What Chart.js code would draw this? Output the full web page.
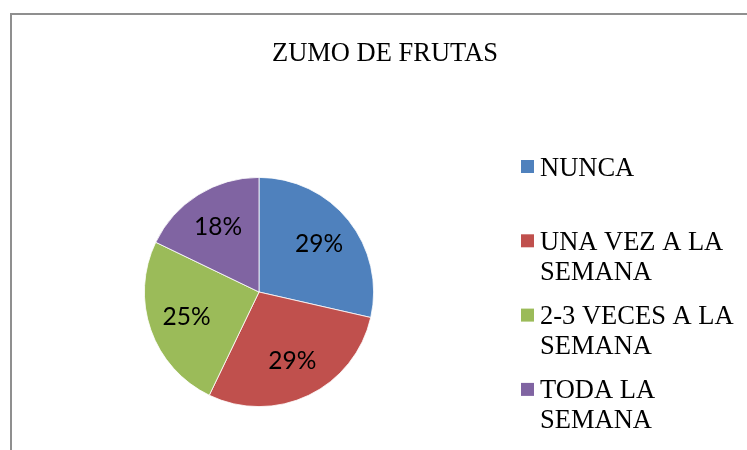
<!DOCTYPE html>
<html>
<head>
<meta charset="utf-8">
<script src="https://cdn.jsdelivr.net/npm/chart.js@4/dist/chart.umd.min.js"></script>
<style>
  html, body { margin: 0; padding: 0; background: #ffffff; }
  #wrap { width: 747px; height: 450px; }
</style>
</head>
<body>
<div id="wrap"><canvas id="c" width="747" height="450"></canvas></div>
<script>
const chartTitle = 'ZUMO DE FRUTAS';
const categories = ['NUNCA', 'UNA VEZ A LA SEMANA', '2-3 VECES A LA SEMANA', 'TODA LA SEMANA'];
const values = [16, 16, 14, 10];
const legendLines = [['NUNCA'], ['UNA VEZ A LA', 'SEMANA'], ['2-3 VECES A LA', 'SEMANA'], ['TODA LA', 'SEMANA']];
const colors = ['#4F81BD', '#C0504D', '#9BBB59', '#8064A2'];

const total = values.reduce((a, b) => a + b, 0);

const framePlugin = {
  id: 'frame',
  beforeDraw(chart) {
    const ctx = chart.ctx;
    ctx.save();
    ctx.fillStyle = '#ffffff';
    ctx.fillRect(0, 0, chart.width, chart.height);
    ctx.strokeStyle = '#8f8f8f';
    ctx.lineWidth = 2;
    ctx.strokeRect(11, 14, chart.width + 40, chart.height + 40);
    ctx.fillStyle = '#000000';
    ctx.font = '26.5px "Liberation Serif", "Times New Roman", serif';
    ctx.textAlign = 'center';
    ctx.textBaseline = 'alphabetic';
    ctx.fillText(chartTitle, 385, 60.5);
    ctx.restore();
  }
};

const labelPlugin = {
  id: 'sliceLabels',
  afterDatasetsDraw(chart) {
    const ctx = chart.ctx;
    const meta = chart.getDatasetMeta(0);
    const data = chart.data.datasets[0].data;
    ctx.save();
    ctx.fillStyle = '#000000';
    ctx.font = '24.5px Lato, "Open Sans", sans-serif';
    ctx.textAlign = 'center';
    ctx.textBaseline = 'middle';
    meta.data.forEach((arc, i) => {
      const p = arc.getProps(['x', 'y', 'startAngle', 'endAngle', 'outerRadius'], true);
      const mid = (p.startAngle + p.endAngle) / 2;
      const r = p.outerRadius * 0.67;
      const pct = Math.round(data[i] / total * 100) + '%';
      ctx.fillText(pct, p.x + Math.cos(mid) * r, p.y + Math.sin(mid) * r);
    });
    ctx.restore();
  }
};

const legendPlugin = {
  id: 'sideLegend',
  afterDraw(chart) {
    const ctx = chart.ctx;
    const bg = chart.data.datasets[0].backgroundColor;
    ctx.save();
    ctx.font = '26.5px "Liberation Serif", "Times New Roman", serif';
    ctx.textAlign = 'left';
    ctx.textBaseline = 'alphabetic';
    const firstBase = 175.5, itemStep = 74.3, lineStep = 30;
    legendLines.forEach((lines, i) => {
      const base = firstBase + i * itemStep;
      ctx.fillStyle = bg[i];
      ctx.fillRect(521, base - 15.5, 13, 13);
      ctx.fillStyle = '#000000';
      lines.forEach((t, j) => ctx.fillText(t, 540, base + j * lineStep));
    });
    ctx.restore();
  }
};

new Chart(document.getElementById('c'), {
  type: 'pie',
  data: {
    labels: categories,
    datasets: [{
      data: values,
      backgroundColor: colors,
      borderColor: '#ffffff',
      borderWidth: 0.8,
      hoverOffset: 0
    }]
  },
  options: {
    responsive: false,
    animation: false,
    events: [],
    layout: { padding: { top: 177, bottom: 43, left: 144, right: 373 } },
    plugins: {
      legend: { display: false },
      title: { display: false },
      tooltip: { enabled: false }
    }
  },
  plugins: [framePlugin, labelPlugin, legendPlugin]
});
</script>
</body>
</html>
